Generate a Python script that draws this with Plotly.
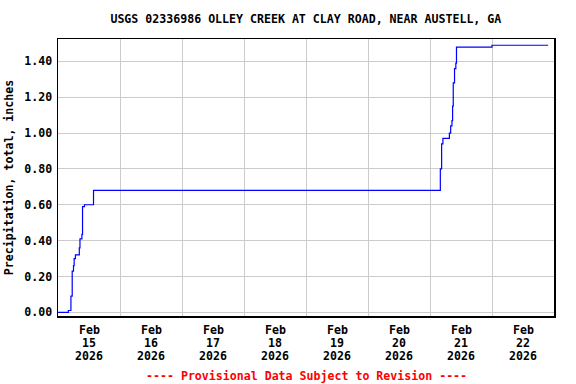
import plotly.graph_objects as go

times = [
    "2026-02-15 00:00", "2026-02-15 04:00", "2026-02-15 05:00", "2026-02-15 05:30",
    "2026-02-15 06:00", "2026-02-15 06:15", "2026-02-15 06:45", "2026-02-15 08:15",
    "2026-02-15 08:30", "2026-02-15 09:15", "2026-02-15 09:30", "2026-02-15 10:15",
    "2026-02-15 13:45", "2026-02-21 04:00", "2026-02-21 04:30", "2026-02-21 05:00",
    "2026-02-21 07:30", "2026-02-21 08:00", "2026-02-21 08:30", "2026-02-21 08:45",
    "2026-02-21 09:00", "2026-02-21 09:30", "2026-02-21 10:00", "2026-02-21 10:15",
    "2026-02-22 00:00", "2026-02-22 21:45",
]
precip = [
    0.00, 0.01, 0.09, 0.23,
    0.26, 0.30, 0.32, 0.36,
    0.41, 0.435, 0.59, 0.60,
    0.68, 0.80, 0.94, 0.97,
    1.00, 1.04, 1.07, 1.15,
    1.28, 1.36, 1.39, 1.48,
    1.49, 1.49,
]

grid_dates = ["2026-02-16", "2026-02-17", "2026-02-18", "2026-02-19",
              "2026-02-20", "2026-02-21", "2026-02-22"]
tick_dates = ["2026-02-15 12:00", "2026-02-16 12:00", "2026-02-17 12:00", "2026-02-18 12:00",
              "2026-02-19 12:00", "2026-02-20 12:00", "2026-02-21 12:00", "2026-02-22 12:00"]
tick_month = ["Feb"] * 8
tick_day = ["15", "16", "17", "18", "19", "20", "21", "22"]
tick_year = ["2026"] * 8
y_ticks = [0.0, 0.2, 0.4, 0.6, 0.8, 1.0, 1.2, 1.4]

FONT = "DejaVu Sans Mono"
FS = 11.6

fig = go.Figure()
fig.add_trace(go.Scatter(x=times, y=precip, mode="lines", line=dict(color="#0000FF", width=1.2, shape="hv"),
                         hoverinfo="skip", showlegend=False))

fig.update_layout(
    width=576, height=384,
    margin=dict(l=58, r=22, t=39, b=68, autoexpand=False),
    paper_bgcolor="white", plot_bgcolor="white",
    font=dict(family=FONT, size=FS, color="black", weight="bold"),
    title=dict(text="USGS 02336986 OLLEY CREEK AT CLAY ROAD, NEAR AUSTELL, GA",
               x=0.531, xanchor="center", y=1 - 19 / 384, yref="container", yanchor="middle", automargin=False,
               font=dict(family=FONT, size=FS, color="black", weight="bold")),
    xaxis=dict(
        range=["2026-02-15 00:00", "2026-02-23 00:00"], automargin=False,
        tickmode="array", tickvals=grid_dates, showticklabels=False,
        showgrid=True, gridcolor="#CCCCCC", gridwidth=1, ticks="",
        showline=True, linecolor="black", linewidth=1.5, mirror=True,
        zeroline=False,
    ),
    yaxis=dict(
        range=[-0.0207, 1.525], automargin=False,
        tickmode="array", tickvals=y_ticks, ticktext=[f"{v:.2f}" for v in y_ticks],
        showgrid=True, gridcolor="#CCCCCC", gridwidth=1, zeroline=False,
        showline=True, linecolor="black", linewidth=1.5, mirror=True, ticks="",
        ticklabelstandoff=2,
        title=dict(text="Precipitation, total, inches", standoff=8,
                   font=dict(family=FONT, size=FS, weight="bold")),
    ),
)

for xv, m, d, yr in zip(tick_dates, tick_month, tick_day, tick_year):
    for i, txt in enumerate([m, d, yr]):
        fig.add_annotation(text=txt, x=xv, xref="x", y=0, yref="paper", yanchor="middle",
                           yshift=-(330 - 316) - 13 * i, xanchor="center", showarrow=False,
                           font=dict(family=FONT, size=FS, color="black", weight="bold"))

fig.add_annotation(text="---- Provisional Data Subject to Revision ----", xref="paper", yref="paper",
                   x=0.5, y=0, yshift=-(376 - 316), xanchor="center", yanchor="middle", showarrow=False,
                   font=dict(family=FONT, size=FS, color="#FF0000", weight="bold"))

fig.write_html("out.html", config={"displayModeBar": False, "staticPlot": True},
               post_script="document.body.style.margin='0px';document.body.style.overflow='hidden';")
